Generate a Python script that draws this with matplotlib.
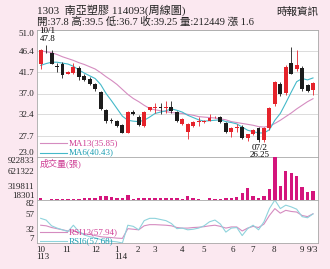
import numpy as np
import matplotlib.pyplot as plt

plt.rcParams['font.family'] = ['Liberation Serif', 'Noto Sans CJK TC']

# weekly candles, 113/09 .. 114/09
opens = [43.4, 46.4, 46.0, 43.1, 43.6, 41.4, 41.6, 42.6, 40.9, 40.3,
         39.1, 37.3, 33.4, 31.2, 30.9, 30.0, 28.4, 33.0, 31.8, 29.8,
         33.3, 33.9, 34.0, 33.9, 34.0, 33.0, 30.2, 28.6, 29.9, 30.7,
         30.7, 31.0, 31.8, 31.9, 30.6, 28.6, 29.4, 29.7, 27.1, 28.1,
         29.3, 26.7, 29.3, 34.6, 39.2, 37.2, 43.8, 42.3, 42.7, 38.9, 37.8]
highs = [46.8, 47.8, 46.7, 43.8, 44.0, 41.9, 43.8, 43.0, 41.2, 40.6,
         39.4, 37.6, 33.6, 31.6, 31.2, 30.2, 33.2, 33.3, 32.2, 33.2,
         34.1, 35.0, 35.0, 35.3, 35.3, 33.2, 31.5, 30.5, 31.0, 31.8,
         31.2, 32.4, 32.1, 32.0, 30.8, 29.7, 30.3, 30.0, 28.1, 29.1,
         29.6, 29.7, 34.0, 39.8, 39.5, 43.2, 47.2, 46.5, 43.0, 39.1, 39.5]
lows = [42.3, 46.0, 43.4, 41.8, 40.4, 41.2, 41.3, 39.9, 39.8, 38.9,
        37.6, 33.4, 30.6, 30.4, 29.6, 28.2, 28.2, 32.2, 29.8, 29.7,
        33.1, 32.8, 32.4, 32.8, 32.8, 30.7, 30.0, 26.9, 29.7, 29.8,
        30.5, 30.9, 31.6, 30.6, 28.4, 27.3, 28.6, 27.0, 26.5, 27.9,
        26.4, 26.25, 29.0, 34.3, 36.5, 36.6, 41.2, 42.0, 37.6, 37.3, 36.7]
closes = [46.5, 46.3, 43.6, 42.9, 41.0, 41.7, 42.9, 40.6, 40.0, 39.2,
          37.9, 33.6, 30.9, 31.0, 29.8, 28.4, 33.0, 32.4, 30.0, 33.0,
          34.0, 34.1, 33.8, 34.0, 33.2, 30.9, 31.3, 30.2, 30.8, 30.9,
          31.0, 31.7, 31.9, 30.8, 28.6, 29.5, 29.6, 27.1, 28.0, 28.9,
          26.7, 29.5, 33.8, 39.6, 36.8, 42.9, 41.4, 43.2, 37.9, 37.65, 39.25]
volumes = [60000, 18301, 45000, 40000, 45000, 40000, 40000, 45000, 50000, 55000,
           60000, 95000, 100000, 80000, 60000, 60000, 120000, 40000, 50000, 55000,
           55000, 65000, 60000, 70000, 55000, 55000, 40000, 100000, 55000, 40000,
           25000, 55000, 40000, 40000, 60000, 60000, 75000, 165000, 270000, 100000,
           65000, 100000, 250000, 922833, 320000, 628000, 580000, 523000, 298000, 190000, 212449]

ma6 = [43.2, 43.6, 43.9, 43.9, 43.7, 43.5, 43.0, 42.2, 41.5, 40.9,
       40.3, 39.0, 37.0, 35.4, 33.7, 32.0, 31.1, 30.9, 30.8, 31.1,
       31.8, 32.6, 32.9, 33.2, 33.6, 33.3, 32.9, 32.2, 31.7, 31.2,
       30.9, 31.0, 31.1, 31.2, 30.8, 30.6, 30.3, 29.6, 28.9, 28.6,
       28.3, 28.3, 29.0, 31.1, 32.6, 34.9, 37.3, 39.6, 40.3, 40.0, 40.43]
ma13 = [46.4, 46.2, 46.0, 45.6, 45.1, 44.7, 44.3, 43.8, 43.4, 42.9,
        42.4, 41.6, 40.7, 39.9, 39.0, 37.9, 36.8, 35.9, 35.2, 34.4,
        33.7, 33.4, 33.2, 33.0, 32.8, 32.7, 32.6, 32.4, 32.2, 31.9,
        31.8, 31.7, 31.6, 31.4, 31.2, 30.8, 30.6, 30.4, 30.2, 30.0,
        29.7, 29.6, 29.8, 30.4, 31.1, 31.9, 32.7, 33.6, 34.4, 35.2, 35.85]
rsi6 = [50, 47, 37, 33, 30, 27, 38, 27, 21, 18,
        16, 13, 11, 10, 9, 7, 38, 36, 30, 46,
        50, 50, 48, 46, 41, 32, 33, 30, 31, 33,
        37, 44, 47, 40, 26, 33, 34, 20, 32, 38,
        30, 44, 67, 82, 67, 73, 70, 66, 53, 51, 57.68]
rsi13 = [38, 37, 34, 32, 30, 28, 28, 25, 23, 22,
         20, 18, 17, 16.5, 15.5, 15, 32, 31, 30, 37,
         39, 39, 38.5, 38, 37, 34, 33, 33, 34, 34.5,
         35.5, 37, 38, 36, 33, 35, 35, 28, 33, 36,
         34, 40, 55, 67, 59, 64, 62, 61, 55, 53, 57.94]

price_ticks = [23.0, 27.7, 32.4, 37.0, 41.7, 46.4, 51.0]
vol_ticks = [18301, 319811, 621322, 922833]
rsi_ticks = [7, 32, 57, 82]
month_pos = [0.45, 4.8, 10.0, 14.7, 17.9, 21.0, 25.9, 30.0, 35.2, 39.0, 42.8, 47.9, 49.9]
month_labels = ['10\n113', '11', '12', '1\n114', '2', '3', '4', '5', '6', '7', '8', '9', '9/3']

RED = '#e5232b'
BLK = '#1c1c1c'
PINK = '#cf3f95'
MA13_C = '#d58cc0'
CYAN = '#45b9c9'
VOLC = '#d4157c'
GRID = '#d6d6d6'
SPINE = '#a8a8a8'
BG = '#fbe8f0'

n = len(closes)
x = np.arange(n)
o = np.array(opens)
c = np.array(closes)
up = c >= o
cols = np.where(up, RED, BLK)

fig = plt.figure(figsize=(3.3, 2.69), dpi=100, facecolor=BG)
L, W = 37 / 330, 281 / 330
ax = fig.add_axes([L, 1 - 157 / 269, W, 127 / 269])
axv = fig.add_axes([L, 1 - 200 / 269, W, 43 / 269], sharex=ax)
axr = fig.add_axes([L, 1 - 243 / 269, W, 43 / 269], sharex=ax)

for a in (ax, axv, axr):
    a.set_facecolor('white')
    for s in a.spines.values():
        s.set_color(SPINE)
        s.set_linewidth(0.6)
    a.tick_params(length=0, labelsize=6.5, pad=2, colors='#222222')

# price panel
ax.vlines(x, lows, highs, colors=cols, lw=0.6, zorder=3)
body = np.maximum(np.abs(c - o), 0.12)
ax.bar(x, body, bottom=np.minimum(o, c), width=0.72, color=cols, zorder=4)
ax.plot(x, ma13, color=MA13_C, lw=0.8, zorder=2)
ax.plot(x, ma6, color=CYAN, lw=0.8, zorder=2)
ax.set_ylim(price_ticks[0], price_ticks[-1])
ax.set_yticks(price_ticks)
ax.set_yticklabels(['%.1f' % t for t in price_ticks])
ax.grid(axis='y', color=GRID, lw=0.6)
ax.set_xlim(-0.68, n - 0.08)
ax.tick_params(axis='x', labelbottom=False)

ih = int(np.argmax(highs))
ax.annotate('10/1\n%.1f' % highs[ih], (ih, highs[ih]), xytext=(1, 1), textcoords='offset points',
            ha='center', va='bottom', fontsize=6.5, linespacing=0.95)
il = int(np.argmin(lows))
ax.annotate('07/2\n%.2f' % lows[il], (il, lows[il]), xytext=(-3, -1), textcoords='offset points',
            ha='center', va='top', fontsize=6.5, linespacing=0.95)

ax.plot([0.011, 0.107], [0.110, 0.110], transform=ax.transAxes, color=MA13_C, lw=0.8)
ax.text(0.112, 0.110, 'MA13(%.2f)' % ma13[-1], transform=ax.transAxes, color=PINK,
        fontsize=6.5, va='center')
ax.plot([0.011, 0.107], [0.034, 0.034], transform=ax.transAxes, color=CYAN, lw=0.8)
ax.text(0.112, 0.034, 'MA6(%.2f)' % ma6[-1], transform=ax.transAxes, color='#1e9fb3',
        fontsize=6.5, va='center')

# volume panel
axv.bar(x, volumes, width=0.62, color=VOLC, zorder=3)
axv.set_ylim(vol_ticks[0], vol_ticks[-1])
axv.set_yticks(vol_ticks)
axv.set_yticklabels([str(t) for t in vol_ticks])
axv.tick_params(axis='x', labelbottom=False)
axv.text(0.011, 0.86, '成交量(張)', transform=axv.transAxes, color=PINK,
         fontsize=6.5, va='center')

# rsi panel
axr.plot(x, rsi13, color=MA13_C, lw=0.8)
axr.plot(x, rsi6, color='#8fd3dc', lw=0.8)
axr.set_ylim(rsi_ticks[0], rsi_ticks[-1])
axr.set_yticks(rsi_ticks)
axr.set_yticklabels([str(t) for t in rsi_ticks])
axr.plot([0.011, 0.107], [0.249, 0.249], transform=axr.transAxes, color=MA13_C, lw=0.8)
axr.text(0.112, 0.249, 'RSI13(%.2f)' % rsi13[-1], transform=axr.transAxes, color=PINK,
         fontsize=6.5, va='center')
axr.plot([0.011, 0.107], [0.053, 0.053], transform=axr.transAxes, color='#8fd3dc', lw=0.8)
axr.text(0.112, 0.053, 'RSI6(%.2f)' % rsi6[-1], transform=axr.transAxes, color='#1e9fb3',
         fontsize=6.5, va='center')
axr.set_xticks(month_pos)
axr.set_xticklabels(month_labels)
for t in axr.get_xticklabels():
    t.set_multialignment('left')
    t.set_linespacing(0.95)

# keep end labels inside their panels
for a in (ax, axv, axr):
    labs = a.get_yticklabels()
    labs[0].set_va('bottom')
    labs[-1].set_va('top')

fig.text(37 / 330, 1 - 10 / 269, '1303  南亞塑膠 114093(周線圖)', fontsize=8,
         va='center', color='#222222')
fig.text(37 / 330, 1 - 22 / 269, '開:37.8 高:39.5 低:36.7 收:39.25 量:212449 漲 1.6',
         fontsize=7.6, va='center', color='#222222')
fig.text(318 / 330, 1 - 12 / 269, '時報資訊', fontsize=7.6, ha='right', va='center',
         color='#222222')

fig.savefig('out.png', dpi=100, facecolor=BG)
